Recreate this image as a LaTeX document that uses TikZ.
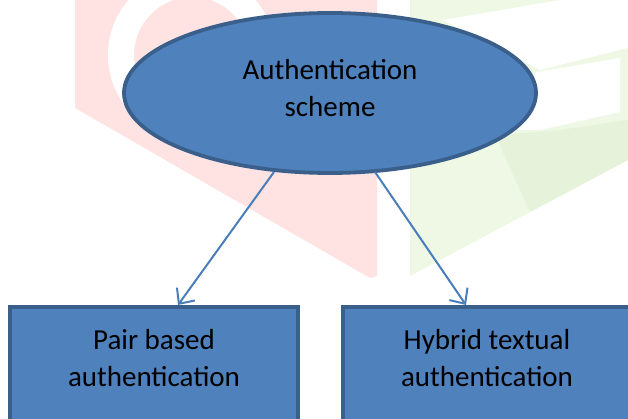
\documentclass[tikz,border=0pt]{standalone}
\usepackage{fontspec}
\setmainfont{Carlito}
\usetikzlibrary{arrows.meta}
\definecolor{ofill}{HTML}{4F81BD}
\definecolor{oline}{HTML}{3A5F8B}
\definecolor{arrowc}{HTML}{4A7EBB}
\definecolor{wred}{HTML}{FFE3E3}
\definecolor{wgreen}{HTML}{EEF8E4}
\definecolor{wgreen2}{HTML}{E6F2DA}
\tikzset{
  shapebox/.style={draw=oline, line width=3.8pt, fill=ofill},
  txt/.style={font=\fontsize{29}{37}\selectfont, text=black, align=center},
  link/.style={draw=arrowc, line width=2pt, -{Straight Barb[length=12pt,width=22pt,line width=2pt]}}
}
\begin{document}
\begin{tikzpicture}[x=1pt,y=-1pt]
\useasboundingbox (0,0) rectangle (628,419);
\clip (0,0) rectangle (628,419);
% watermark
\fill[wred] (75,0) -- (377,0) -- (377,276) -- (370,278) -- (75,108) -- cycle;
\fill[white, even odd rule] (192,55) circle (84) (192,55) circle (58);
\fill[wgreen] (410,0) -- (628,0) -- (628,160) -- (410,276) -- cycle;
\fill[wgreen2] (495,135) -- (560,130) -- (628,120) -- (628,160) -- (530,212) -- cycle;
\fill[white] (443,20) -- (560,0) -- (628,0) -- (628,48) -- (540,70) -- cycle;
\fill[white] (537,72) -- (620,58) -- (620,112) -- (540,130) -- (480,130) -- cycle;
% nodes
\path[shapebox] (330,93) ellipse (206 and 80);
\node[txt] (root) at (330,88) {Authentication\\scheme};
\coordinate (rootL) at (274,172);
\coordinate (rootR) at (375,172);
\draw[shapebox] (10,307) rectangle (298,440);
\draw[shapebox] (343,307) rectangle (650,440);
\node[txt] (pair) at (154,358) {Pair based\\authentication};
\node[txt] (hyb) at (487,358) {Hybrid textual\\authentication};
\coordinate (pairT) at (178,305);
\coordinate (hybT) at (466,305);
\draw[link] (rootL) -- (pairT);
\draw[link] (rootR) -- (hybT);
\end{tikzpicture}
\end{document}
